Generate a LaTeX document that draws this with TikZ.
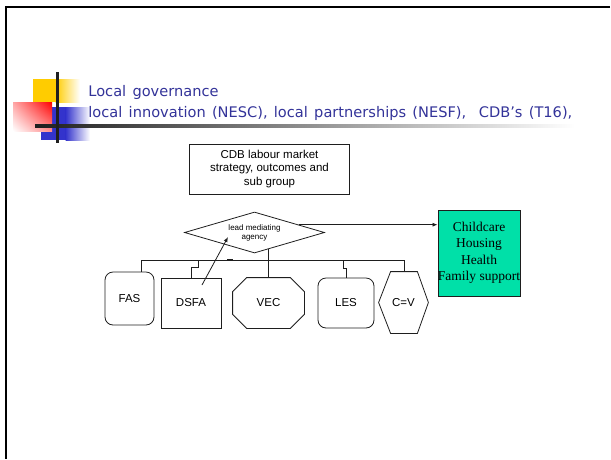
\documentclass[tikz,border=0pt]{standalone}
\usepackage{fontspec}
\setmainfont{Liberation Sans}
\newfontfamily\titlefont[WordSpace=1.35]{DejaVu Sans}
\newfontfamily\seriffont{Liberation Serif}
\usetikzlibrary{arrows.meta,shapes.geometric,shadings}
\definecolor{titleblue}{RGB}{51,51,153}
\definecolor{linec}{RGB}{30,30,30}
\definecolor{ccgreen}{RGB}{0,224,168}
\definecolor{logoyellow}{RGB}{255,204,0}
\definecolor{logoblue}{RGB}{51,51,204}
\definecolor{logored}{RGB}{255,0,0}
\begin{document}
\begin{tikzpicture}[x=1pt,y=-1pt,line width=0.8pt,
  conn/.style={draw=linec,line width=0.8pt},
  box/.style={draw=linec,line width=0.8pt,inner sep=0pt,align=center,
    font=\fontsize{11.5}{13.5}\selectfont},
  rbox/.style={box,rounded corners=8pt},
  plain/.style={inner sep=0pt,align=center,font=\fontsize{11.5}{13.5}\selectfont},
  titletext/.style={inner sep=0pt,anchor=base west,text=titleblue,
    font=\titlefont\fontsize{14.6}{16}\selectfont},
  tip/.style={-{Latex[length=5pt,width=4pt]}}]
\useasboundingbox (0,0) rectangle (611,459);
% frame
\draw[line width=2.4pt,black] (610,6.8) -- (6.2,6.8) -- (6.2,459);
% logo
\fill[logoyellow] (33,79) rectangle (56,102);
\shade[left color=logoyellow,right color=white] (55.5,79) rectangle (80,102);
\fill[logoblue] (41,107) rectangle (66,140);
\shade[left color=logoblue,right color=white] (65.5,107) rectangle (90,140);
\shade[upper right=logored,upper left=logored!35!white,lower left=white,lower right=logored!45!white] (13,102) rectangle (52,131);
\shade[left color=black!88,right color=white] (35,124.5) rectangle (575,127.5);
\fill[black!88] (55.5,72) rectangle (58.5,143);
% title
\node[titletext] (t1) at (88,96) {Local governance};
\node[titletext] (t2) at (88,117) {local innovation (NESC), local partnerships (NESF),\ \ CDB’s (T16),};
% diagram nodes
\node[box,minimum width=160,minimum height=50] (cdb) at (269.5,169) {CDB labour market\\strategy, outcomes and\\sub group};
\node[draw=linec,diamond,aspect=3.4,inner sep=0pt,minimum width=140,minimum height=41,align=center,
  font=\fontsize{8}{9}\selectfont] (dia) at (254.5,232.5) {\raisebox{-2pt}{\shortstack{lead mediating\\agency}}};
\node[draw=linec,fill=ccgreen,inner sep=0pt,minimum width=82,minimum height=86,align=center,
  font=\seriffont\fontsize{13.5}{16.5}\selectfont] (cc) at (479,253) {Childcare\\Housing\\Health\\Family support};
\node[rbox,minimum width=49,minimum height=53] (fas) at (129.5,298.5) {FAS};
\node[box,minimum width=60,minimum height=50] (dsfa) at (191,303) {DSFA};
\node[plain,minimum width=71,minimum height=50] (vec) at (268.5,303) {VEC};
\node[rbox,minimum width=56,minimum height=50] (les) at (346,303) {LES};
\node[plain,minimum width=49,minimum height=61] (cv) at (403.5,302.5) {C=V};
% octagon and hexagon outlines
\draw[conn] ([xshift=14pt]vec.north west) -- ([xshift=-14pt]vec.north east) -- ([yshift=-14pt]vec.north east)
  -- ([yshift=14pt]vec.south east) -- ([xshift=-14pt]vec.south east) -- ([xshift=14pt]vec.south west)
  -- ([yshift=14pt]vec.south west) -- ([yshift=-14pt]vec.north west) -- cycle;
\draw[conn] ([xshift=12pt]cv.north west) -- ([xshift=-11pt]cv.north east) -- (cv.east)
  -- ([xshift=-11pt]cv.south east) -- ([xshift=12pt]cv.south west) -- (cv.west) -- cycle;
% bus and drops
\coordinate (busL) at (141,260);
\coordinate (busR) at (404,260);
\coordinate (dj) at (198,267);
\coordinate (lj) at (343,268);
\draw[conn] (busL) -- (busR);
\draw[line width=1.8pt,linec] (227,260) -- (233,260);
\draw[conn] (busL) -- (busL |- fas.north);
\draw[conn] (dj |- busL) -- (dj) -| (dsfa.north);
\draw[conn] (dia.-50) -- (dia.-50 |- vec.north);
\draw[conn] (lj |- busL) -- (lj) -| (les.north);
\draw[conn] (busR) -- (busR |- cv.north);
% arrows
\draw[conn,tip] (dia.10) -- (dia.10 -| cc.west);
\draw[conn,tip] ([shift={(11,-18)}]dsfa.center) -- ([shift={(-26.5,4.5)}]dia.center);
\end{tikzpicture}
\end{document}
